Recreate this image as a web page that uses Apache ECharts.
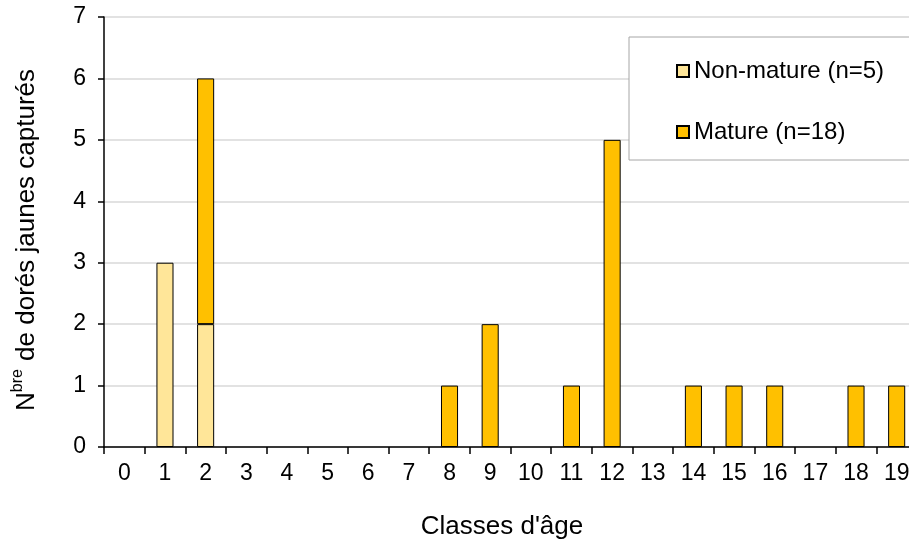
<!DOCTYPE html>
<html><head><meta charset="utf-8">
<script src="https://cdn.jsdelivr.net/npm/echarts@6/dist/echarts.min.js"></script>
<style>html,body{margin:0;padding:0;background:#fff;overflow:hidden}#c{width:909px;height:545px}</style>
</head><body><div id="c"></div>
<script>
var categories = ['0','1','2','3','4','5','6','7','8','9','10','11','12','13','14','15','16','17','18','19'];
var nonMature = [0,3,2,0,0,0,0,0,0,0,0,0,0,0,0,0,0,0,0,0];
var mature    = [0,0,4,0,0,0,0,0,1,2,0,1,5,0,1,1,1,0,1,1];
var seriesNames = ['Non-mature (n=5)', 'Mature (n=18)'];
var yTicks = [0,1,2,3,4,5,6,7];
var xTitle = "Classes d'âge";
var yTitle = '{n|N}{s|bre}{n| de dorés jaunes capturés}';

var F = 'Liberation Sans, Arial, sans-serif';
var chart = echarts.init(document.getElementById('c'));
function z(a){ return a.map(function(v){ return v === 0 ? null : v; }); }
chart.setOption({
  animation: false,
  textStyle: {fontFamily: F},
  grid: {left: 104, right: -8, top: 17, height: 430, containLabel: false, outerBoundsMode: 'none'},
  legend: {
    orient: 'vertical', left: 629, top: 37,
    padding: [22, 26, 16, 47], itemGap: 37,
    itemWidth: 12, itemHeight: 12, icon: 'rect',
    borderColor: '#a6a6a6', borderWidth: 1, backgroundColor: '#fff',
    textStyle: {fontSize: 24, color: '#000', fontFamily: F},
    data: seriesNames
  },
  graphic: [
    {type: 'text', x: 502, y: 527, style: {text: xTitle, fontSize: 26, fill: '#000', fontFamily: F, align: 'center', verticalAlign: 'middle'}},
    {type: 'text', x: 25, y: 240, rotation: Math.PI / 2, style: {text: yTitle, fontFamily: F, align: 'center', verticalAlign: 'middle',
      rich: {n: {fontSize: 26, fill: '#000', fontFamily: F, lineHeight: 30, verticalAlign: 'bottom'},
             s: {fontSize: 16, fill: '#000', fontFamily: F, lineHeight: 30, verticalAlign: 'top', padding: [0,1,9,0]}}}}
  ],
  xAxis: {
    type: 'category', data: categories, boundaryGap: true,
    axisLine: {lineStyle: {color: '#000', width: 1.5}},
    axisTick: {show: true, alignWithLabel: false, length: 7, lineStyle: {color: '#000', width: 1.5}},
    axisLabel: {fontSize: 23, color: '#000', margin: 15, interval: 0, fontFamily: F}
  },
  yAxis: {
    type: 'value', min: 0, max: yTicks[yTicks.length-1], interval: 1,
    axisLine: {show: true, lineStyle: {color: '#000', width: 1.5}},
    axisTick: {show: true, length: 6, lineStyle: {color: '#000', width: 1.5}},
    axisLabel: {fontSize: 23, color: '#000', margin: 18, fontFamily: F},
    splitLine: {show: true, lineStyle: {color: '#d9d9d9', width: 1.5}}
  },
  series: [
    {name: seriesNames[0], type: 'bar', stack: 'a', data: z(nonMature), barWidth: '42%',
     itemStyle: {color: '#FFE699', borderColor: '#000', borderWidth: 1}},
    {name: seriesNames[1], type: 'bar', stack: 'a', data: z(mature), barWidth: '42%',
     itemStyle: {color: '#FFC000', borderColor: '#000', borderWidth: 1}}
  ]
});
</script></body></html>
